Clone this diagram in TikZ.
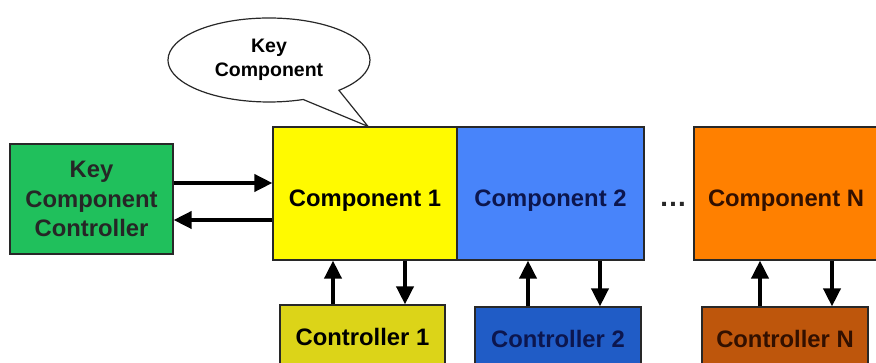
\documentclass[tikz,border=0pt]{standalone}
\usepackage{fontspec}
\setmainfont{Liberation Sans}
\usepackage{tikz}
\usetikzlibrary{arrows.meta,shapes.callouts}

\definecolor{keygreen}{RGB}{32,192,92}
\definecolor{compyellow}{RGB}{255,250,0}
\definecolor{compblue}{RGB}{72,132,250}
\definecolor{comporange}{RGB}{255,128,0}
\definecolor{ctrlolive}{RGB}{220,212,24}
\definecolor{ctrlblue}{RGB}{32,92,198}
\definecolor{ctrlbrown}{RGB}{190,86,12}
\definecolor{edge}{RGB}{40,40,40}
\definecolor{navytext}{RGB}{12,22,78}
\definecolor{browntext}{RGB}{50,16,0}

\tikzset{
  block/.style={draw=edge, line width=1.2pt, align=center, inner sep=0pt,
    font=\fontsize{23.8}{29.5}\selectfont\bfseries},
  compbox/.style={block, minimum height=133pt, text height=31pt, text depth=5pt},
  arr/.style={line width=3.8pt, -{Triangle[length=18pt,width=17pt]}}
}

\begin{document}
\begin{tikzpicture}[x=1pt,y=1pt]
    \clip (0,0) rectangle (876,363);
    \fill[white] (0,0) rectangle (876,363);

    % Components in a row
    \node[compbox, fill=compyellow, minimum width=184pt]
      (comp1) at (365,169.5) {Component 1};
    \node[compbox, fill=compblue, text=navytext, minimum width=187pt]
      (comp2) at (550.5,169.5) {Component 2};
    \node[compbox, fill=comporange, text=browntext, minimum width=184pt]
      (compN) at (786,169.5) {Component N};
    \node (dots) at (673,159) {\fontsize{28}{30}\selectfont\bfseries\textcolor{edge}{\dots}};

    % Controller of the key component
    \node[block, fill=keygreen, text=black!85, minimum width=163pt, minimum height=110pt]
      (keyctrl) at (91.5,164) {Key\\Component\\Controller};

    % One controller under each component
    \node[block, fill=ctrlolive, minimum width=165pt, minimum height=64pt]
      (ctrl1) at (362.5,26) {Controller 1};
    \node[block, fill=ctrlblue, text=navytext, minimum width=166pt, minimum height=64pt]
      (ctrl2) at (558,24) {Controller 2};
    \node[block, fill=ctrlbrown, text=browntext, minimum width=166pt, minimum height=64pt]
      (ctrlN) at (785,24) {Controller N};

    % Callout naming the key component
    \coordinate (tip) at ([xshift=3pt]comp1.north);
    \node[ellipse callout, draw=edge, line width=1.2pt, fill=white,
      minimum width=202pt, minimum height=84pt, inner sep=0pt,
      callout absolute pointer={(tip)}, callout pointer arc=24,
      align=center, font=\fontsize{19.5}{24}\selectfont\bfseries]
      (callout) at (269,303) {Key\\Component};

    % Key controller <-> component 1
    \draw[arr] ([yshift=16pt]keyctrl.east) -- ([yshift=16pt]keyctrl.east -| comp1.west);
    \draw[arr] ([yshift=-21pt]keyctrl.east -| comp1.west) -- ([yshift=-21pt]keyctrl.east);

    % Controllers <-> components
    \draw[arr] ([xshift=-29.5pt]ctrl1.north) -- ([xshift=-29.5pt]ctrl1.north |- comp1.south);
    \draw[arr] ([xshift=42.5pt]ctrl1.north |- comp1.south) -- ([xshift=42.5pt]ctrl1.north);
    \draw[arr] ([xshift=-30pt]ctrl2.north) -- ([xshift=-30pt]ctrl2.north |- comp2.south);
    \draw[arr] ([xshift=42pt]ctrl2.north |- comp2.south) -- ([xshift=42pt]ctrl2.north);
    \draw[arr] ([xshift=-25pt]ctrlN.north) -- ([xshift=-25pt]ctrlN.north |- compN.south);
    \draw[arr] ([xshift=47pt]ctrlN.north |- compN.south) -- ([xshift=47pt]ctrlN.north);
\end{tikzpicture}
\end{document}
